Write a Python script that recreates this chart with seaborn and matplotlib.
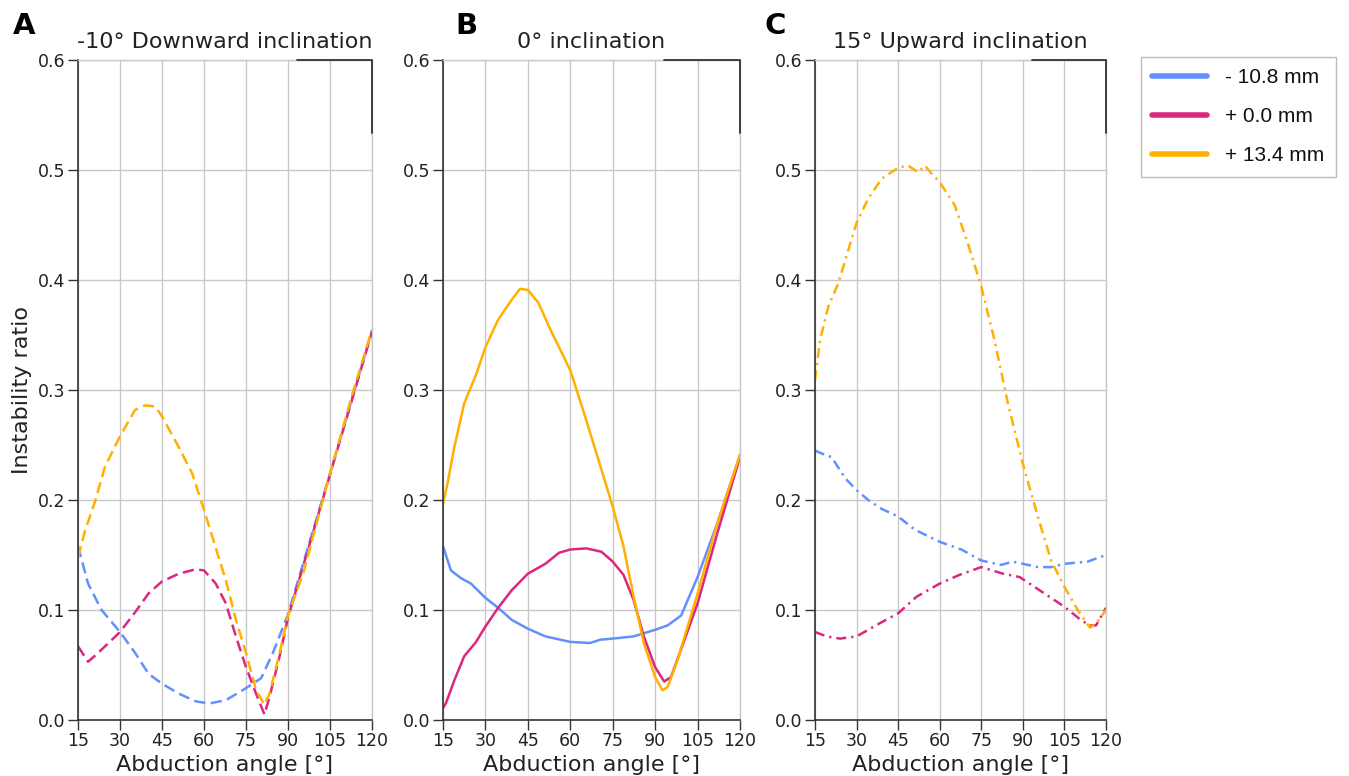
import numpy as np
import pandas as pd
import matplotlib
matplotlib.use("Agg")
import matplotlib.pyplot as plt
from matplotlib.lines import Line2D
import seaborn as sns

# ---------------- data ----------------
labels = ["- 10.8 mm", "+ 0.0 mm", "+ 13.4 mm"]
colors = ["#648FFF", "#DC267F", "#FFB000"]
titles = ["-10° Downward inclination", "0° inclination", "15° Upward inclination"]
letters = ["A", "B", "C"]
x_ticks = [15, 30, 45, 60, 75, 90, 105, 120]
y_ticks = [0.0, 0.1, 0.2, 0.3, 0.4, 0.5, 0.6]

# Panel A (-10° downward)
a_blue_x = [15, 18.6, 23.4, 30, 35.4, 40.2, 45, 51, 57, 61.8, 67.8, 75, 80.4, 84.6, 90, 105, 120]
a_blue_y = [0.158, 0.124, 0.100, 0.080, 0.061, 0.042, 0.033, 0.024, 0.017, 0.015, 0.018, 0.029, 0.038, 0.061, 0.096, 0.224, 0.354]
a_pink_x = [15, 18.6, 22.2, 30, 35.4, 40.2, 45, 51, 57, 60, 64.2, 67.8, 71.4, 75, 78.6, 81.6, 83.4, 87, 90, 105, 120]
a_pink_y = [0.067, 0.053, 0.061, 0.080, 0.098, 0.115, 0.126, 0.133, 0.137, 0.136, 0.124, 0.106, 0.076, 0.048, 0.024, 0.005, 0.021, 0.058, 0.093, 0.223, 0.353]
a_orng_x = [15, 17.5, 21, 24.6, 30, 35.4, 39, 42.6, 45, 51, 55.8, 60, 64, 67.8, 71.4, 75, 78.6, 81.6, 83.4, 87, 90, 95.4, 105, 113.4, 120]
a_orng_y = [0.148, 0.172, 0.198, 0.230, 0.258, 0.282, 0.286, 0.285, 0.276, 0.248, 0.224, 0.191, 0.158, 0.127, 0.091, 0.061, 0.027, 0.014, 0.024, 0.061, 0.095, 0.133, 0.224, 0.300, 0.355]

# Panel B (0°)
b_blue_x = [15, 17.8, 21.3, 24.9, 30, 34.5, 39.3, 45, 51.2, 60, 67, 70.6, 75, 82.4, 90, 94.4, 99.2, 105, 112, 120]
b_blue_y = [0.158, 0.136, 0.129, 0.124, 0.111, 0.102, 0.091, 0.083, 0.076, 0.071, 0.070, 0.073, 0.074, 0.076, 0.082, 0.086, 0.095, 0.130, 0.179, 0.241]
b_pink_x = [15, 16, 19, 22.5, 26.7, 30, 34.5, 39.3, 45, 51.2, 56, 60, 65.7, 71, 75, 78.8, 82.4, 86, 90, 93.2, 95.6, 100.4, 105, 112, 120]
b_pink_y = [0.011, 0.015, 0.036, 0.058, 0.071, 0.085, 0.102, 0.118, 0.133, 0.142, 0.152, 0.155, 0.156, 0.153, 0.144, 0.132, 0.109, 0.076, 0.048, 0.035, 0.039, 0.073, 0.106, 0.170, 0.239]
b_orng_x = [15, 16.6, 19, 22.5, 26.7, 30, 34.5, 39.3, 42.2, 45, 48.8, 52.4, 56, 60, 64.5, 69.3, 75, 78.8, 82.4, 86, 90, 92.6, 94.4, 98, 105, 112, 120]
b_orng_y = [0.197, 0.215, 0.248, 0.288, 0.314, 0.339, 0.364, 0.382, 0.392, 0.391, 0.379, 0.358, 0.339, 0.318, 0.282, 0.242, 0.194, 0.158, 0.112, 0.070, 0.039, 0.027, 0.030, 0.055, 0.115, 0.179, 0.241]

# Panel C (15° upward)
c_blue_x = [15, 18.6, 21, 25.8, 30, 34.2, 39, 45, 51, 60, 67.8, 75, 82.2, 86.4, 90, 95.4, 100.2, 105, 113.4, 120]
c_blue_y = [0.245, 0.241, 0.239, 0.220, 0.209, 0.200, 0.192, 0.185, 0.173, 0.162, 0.155, 0.145, 0.141, 0.144, 0.142, 0.139, 0.139, 0.142, 0.144, 0.150]
c_pink_x = [15, 19.2, 24, 30, 38.4, 45, 51.6, 60, 67.2, 75, 82.8, 88.8, 96, 105, 110.4, 114, 116.4, 120]
c_pink_y = [0.080, 0.076, 0.074, 0.076, 0.088, 0.097, 0.112, 0.124, 0.132, 0.139, 0.133, 0.130, 0.118, 0.103, 0.092, 0.086, 0.086, 0.102]
c_orng_x = [15, 16.8, 19.8, 23.4, 27, 30, 34.2, 39, 45, 48.6, 52.2, 54.6, 57, 60, 65.4, 70.2, 75, 79.8, 84.6, 90, 95.4, 100.2, 105, 109.8, 114.2, 116.5, 120]
c_orng_y = [0.309, 0.345, 0.376, 0.397, 0.427, 0.452, 0.474, 0.492, 0.502, 0.504, 0.498, 0.504, 0.497, 0.489, 0.468, 0.433, 0.394, 0.345, 0.288, 0.233, 0.185, 0.145, 0.121, 0.100, 0.084, 0.088, 0.100]

panels = [
    [(a_blue_x, a_blue_y), (a_pink_x, a_pink_y), (a_orng_x, a_orng_y)],
    [(b_blue_x, b_blue_y), (b_pink_x, b_pink_y), (b_orng_x, b_orng_y)],
    [(c_blue_x, c_blue_y), (c_pink_x, c_pink_y), (c_orng_x, c_orng_y)],
]

# line style per panel
styles = [(0, (4.5, 2.2)), "-", (0, (4.0, 2.0, 0.9, 2.0))]

# ---------------- figure ----------------
sns.set_theme(style="ticks")
plt.rcParams["font.family"] = ["DejaVu Sans"]

W, H = 1349, 776
fig = plt.figure(figsize=(W / 100, H / 100), dpi=100)

ax_px = [(78, 372), (443, 740), (815, 1106)]
top_px, bot_px = 60, 720
letter_px = [13, 455, 765]

grid_col = "#c8c8c8"
spine_col = "#333333"

for i, ((l, r), series) in enumerate(zip(ax_px, panels)):
    ax = fig.add_axes([l / W, 1 - bot_px / H, (r - l) / W, (bot_px - top_px) / H])
    for (xs, ys), col, lab in zip(series, colors, labels):
        df = pd.DataFrame({"angle": xs, "ratio": ys})
        sns.lineplot(data=df, x="angle", y="ratio", ax=ax, color=col,
                     linestyle=styles[i], linewidth=1.8, estimator=None,
                     sort=False, legend=False)
    ax.set_xlim(15, 120)
    ax.set_ylim(0, 0.6)
    ax.set_xticks(x_ticks)
    ax.set_yticks(y_ticks)
    ax.set_yticklabels([f"{v:.1f}" for v in y_ticks])
    ax.grid(True, color=grid_col, linewidth=1.0)
    ax.set_axisbelow(True)
    for s in ["top", "right"]:
        ax.spines[s].set_color(grid_col)
        ax.spines[s].set_linewidth(1.0)
    for s in ["left", "bottom"]:
        ax.spines[s].set_color(spine_col)
        ax.spines[s].set_linewidth(1.2)
    ax.tick_params(axis="both", direction="out", length=7, width=1.0,
                   color=spine_col, labelsize=12.5, pad=2, labelcolor="#222222")
    ax.set_xlabel("Abduction angle [°]", fontsize=16, labelpad=3, color="#222222")
    if i == 0:
        ax.set_ylabel("Instability ratio", fontsize=16, labelpad=4, color="#222222")
    else:
        ax.set_ylabel("")
    ax.set_title(titles[i], fontsize=16, pad=9, color="#222222")
    # dark fragment at the top-right corner
    ax.plot([0.745, 1.0, 1.0], [1.0, 1.0, 0.89], transform=ax.transAxes,
            color="#333333", linewidth=1.3, clip_on=False, zorder=5)
    fig.text(letter_px[i] / W, 1 - 34 / H, letters[i], fontsize=21,
             fontweight="bold", ha="left", va="baseline", color="black")

handles = [Line2D([0], [0], color=c, lw=4, solid_capstyle="round") for c in colors]
leg = fig.legend(handles, labels, loc="upper left",
                 bbox_to_anchor=(1141 / W, 1 - 57 / H), borderaxespad=0,
                 frameon=True, fancybox=False, edgecolor="#aaaaaa",
                 prop={"family": "Liberation Sans", "size": 15},
                 handlelength=2.6, handletextpad=0.9, labelspacing=0.95,
                 borderpad=0.55)
leg.get_frame().set_linewidth(1.0)
for t in leg.get_texts():
    t.set_color("#111111")

fig.savefig("out.png", dpi=100)
